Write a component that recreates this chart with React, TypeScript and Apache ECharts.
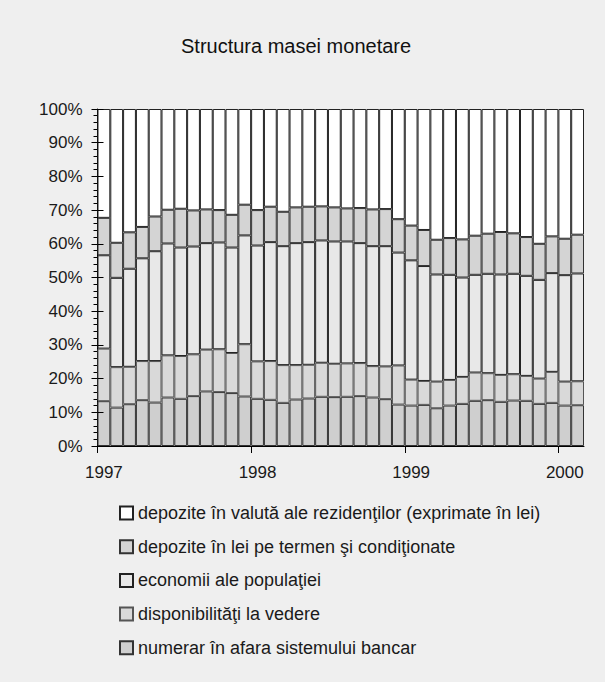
import React, { useEffect, useRef } from 'react';
import * as echarts from 'echarts';

const categories = [
  '1997-01', '1997-02', '1997-03', '1997-04', '1997-05', '1997-06', '1997-07', '1997-08', '1997-09', '1997-10', '1997-11', '1997-12',
  '1998-01', '1998-02', '1998-03', '1998-04', '1998-05', '1998-06', '1998-07', '1998-08', '1998-09', '1998-10', '1998-11', '1998-12',
  '1999-01', '1999-02', '1999-03', '1999-04', '1999-05', '1999-06', '1999-07', '1999-08', '1999-09', '1999-10', '1999-11', '1999-12',
  '2000-01', '2000-02',
];

const numerar = [
  13.3, 11.4, 12.4, 13.6, 12.9, 14.4, 14.0, 14.8, 16.2, 16.0, 15.7, 14.7,
  14.0, 13.7, 12.8, 13.8, 14.1, 14.6, 14.5, 14.6, 14.8, 14.4, 13.9, 12.3,
  12.0, 12.2, 11.2, 12.0, 12.5, 13.4, 13.6, 13.1, 13.5, 13.4, 12.5, 12.8,
  12.0, 12.1,
];
const disponibilitati = [
  15.6, 12.0, 11.1, 11.6, 12.3, 12.5, 12.7, 12.4, 12.4, 12.7, 11.9, 15.5,
  11.1, 11.5, 11.2, 10.2, 10.0, 10.1, 9.9, 9.9, 9.8, 9.3, 9.7, 11.6,
  7.7, 7.1, 7.9, 7.6, 8.0, 8.4, 8.0, 8.0, 7.8, 7.4, 7.5, 9.2,
  7.1, 7.1,
];
const economii = [
  27.7, 26.5, 29.1, 30.5, 32.6, 33.2, 32.2, 32.0, 31.6, 31.7, 31.3, 32.3,
  34.4, 35.3, 35.3, 36.2, 36.4, 36.3, 36.3, 36.2, 35.6, 35.6, 35.7, 33.5,
  35.4, 34.1, 31.8, 31.2, 29.5, 29.0, 29.5, 29.8, 29.8, 29.7, 29.3, 29.3,
  31.6, 32.0,
];
const depoziteLei = [
  11.1, 10.4, 10.8, 9.3, 10.3, 10.0, 11.5, 10.7, 10.0, 9.6, 9.7, 9.1,
  10.5, 10.5, 10.2, 10.6, 10.5, 10.1, 10.1, 9.8, 10.4, 10.9, 11.0, 9.9,
  10.3, 10.7, 10.3, 10.9, 11.3, 11.6, 11.9, 12.6, 12.0, 11.5, 10.7, 10.9,
  10.8, 11.5,
];
const depoziteValuta = [
  32.3, 39.7, 36.6, 35.0, 31.9, 29.9, 29.6, 30.1, 29.8, 30.0, 31.4, 28.4,
  30.0, 29.0, 30.5, 29.2, 29.0, 28.9, 29.2, 29.5, 29.4, 29.8, 29.7, 32.7,
  34.6, 35.9, 38.8, 38.3, 38.7, 37.6, 37.0, 36.5, 36.9, 38.0, 40.0, 37.8,
  38.5, 37.3,
];

const yearTickIndex = [0, 12, 24, 36];
const yearLabels = ['1997', '1998', '1999', '2000'];

const seriesNames = {
  valuta: 'depozite în valută ale rezidenţilor (exprimate în lei)',
  lei: 'depozite în lei pe termen şi condiţionate',
  economii: 'economii ale populaţiei',
  disponibilitati: 'disponibilităţi la vedere',
  numerar: 'numerar în afara sistemului bancar',
};

export default function App() {
  const ref = useRef<HTMLDivElement>(null);

  useEffect(() => {
    if (!ref.current) return;
    const chart = echarts.init(ref.current, null, { renderer: 'svg' });
    const font = "'Liberation Sans', Arial, Helvetica, sans-serif";
    const textColor = '#1a1a1a';
    const gridRect = { left: 97.5, right: 21, top: 109, bottom: 236 };

    const mk = (name: string, data: number[], color: string, border: string) => ({
      type: 'bar',
      name,
      data,
      stack: 'total',
      xAxisIndex: 0,
      yAxisIndex: 0,
      barCategoryGap: '0%',
      itemStyle: { color, borderColor: border, borderWidth: 1 },
      emphasis: { disabled: true },
    });

    chart.setOption({
      animation: false,
      backgroundColor: '#efefef',
      textStyle: { fontFamily: font, color: textColor },
      title: {
        text: 'Structura masei monetare',
        left: 176,
        top: 31,
        textStyle: { fontFamily: font, fontSize: 20, fontWeight: 'normal', color: '#111' },
      },
      legend: {
        orient: 'vertical',
        left: 114,
        top: 499,
        itemWidth: 13,
        itemHeight: 13,
        itemGap: 15.7,
        icon: 'rect',
        selectedMode: false,
        textStyle: { fontFamily: font, fontSize: 18, color: textColor },
        data: [
          seriesNames.valuta,
          seriesNames.lei,
          seriesNames.economii,
          seriesNames.disponibilitati,
          seriesNames.numerar,
        ],
      },
      grid: [
        { ...gridRect, containLabel: false },
        { ...gridRect, containLabel: false },
      ],
      xAxis: [
        {
          type: 'category',
          gridIndex: 0,
          data: categories,
          boundaryGap: true,
          axisLine: { show: true, lineStyle: { color: '#000', width: 1 } },
          axisTick: { show: false },
          axisLabel: { show: false },
          splitLine: { show: false },
        },
        {
          type: 'value',
          gridIndex: 1,
          min: 0,
          max: categories.length,
          axisLine: { show: false },
          splitLine: { show: false },
          axisTick: {
            show: true,
            length: 7,
            customValues: yearTickIndex,
            lineStyle: { color: '#000', width: 1 },
          },
          axisLabel: {
            show: true,
            customValues: yearTickIndex.map((i) => i + 0.5),
            formatter: (v: number) => yearLabels[yearTickIndex.indexOf(Math.floor(v))] ?? '',
            fontFamily: font,
            fontSize: 17,
            color: textColor,
            margin: 18,
          },
        },
      ],
      yAxis: [
        {
          type: 'value',
          gridIndex: 0,
          min: 0,
          max: 100,
          interval: 10,
          axisLine: { show: true, lineStyle: { color: '#000', width: 1 } },
          axisTick: { show: true, length: 6, lineStyle: { color: '#000', width: 1 } },
          minorTick: { show: true, splitNumber: 5, length: 4, lineStyle: { color: '#000', width: 1 } },
          splitLine: { show: false },
          minorSplitLine: { show: false },
          axisLabel: {
            formatter: '{value}%',
            fontFamily: font,
            fontSize: 17,
            color: textColor,
            margin: 15,
          },
        },
        {
          type: 'value',
          gridIndex: 1,
          min: 0,
          max: 100,
          interval: 10,
          z: 10,
          axisLine: { show: false },
          axisTick: { show: true, inside: true, length: 6, lineStyle: { color: '#000', width: 1 } },
          axisLabel: { show: false },
          splitLine: { show: false },
        },
      ],
      series: [
        mk(seriesNames.numerar, numerar, '#cfcfcf', '#333'),
        mk(seriesNames.disponibilitati, disponibilitati, '#d9d9d9', '#555'),
        mk(seriesNames.economii, economii, '#e8e8e8', '#222'),
        mk(seriesNames.lei, depoziteLei, '#d4d4d4', '#333'),
        mk(seriesNames.valuta, depoziteValuta, '#ffffff', '#222'),
      ],
    });

    return () => chart.dispose();
  }, []);

  return (
    <div
      ref={ref}
      style={{ position: 'fixed', left: 0, top: 0, width: 605, height: 682 }}
    />
  );
}
